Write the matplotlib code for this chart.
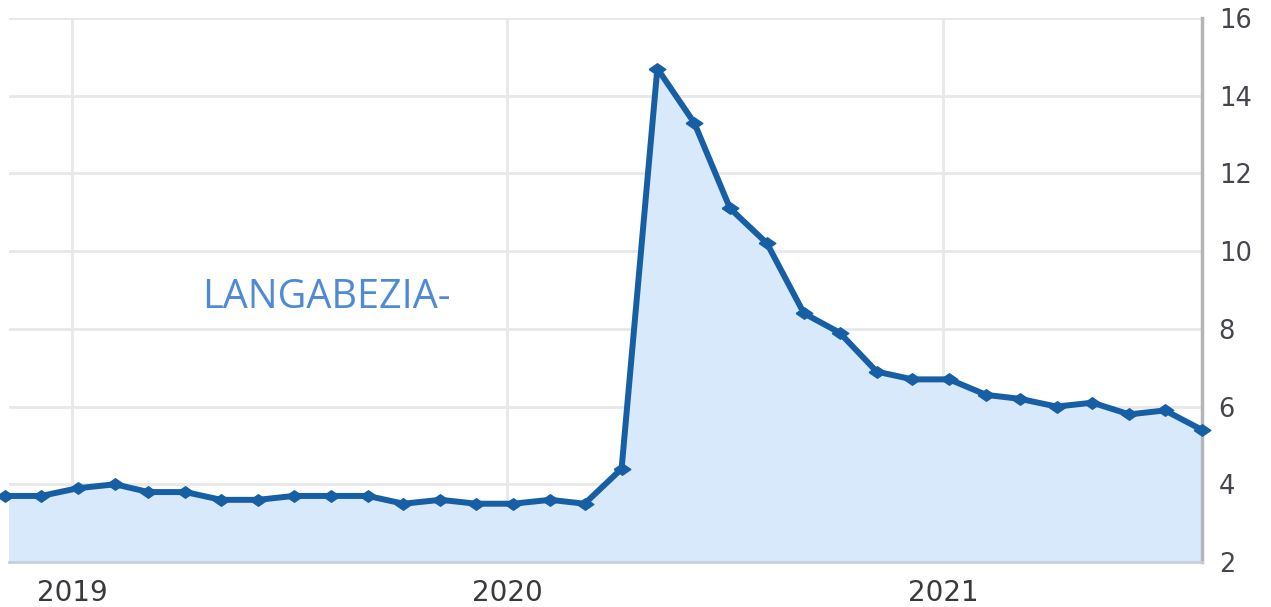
import matplotlib
matplotlib.use("Agg")
import matplotlib.pyplot as plt
import pandas as pd

# Monthly unemployment rate, Oct 2018 .. Jul 2021
months = pd.period_range("2018-10", "2021-07", freq="M")
values = [3.7, 3.7, 3.9,
          4.0, 3.8, 3.8, 3.6, 3.6, 3.7, 3.7, 3.7, 3.5, 3.6, 3.5, 3.5,
          3.6, 3.5, 4.4, 14.7, 13.3, 11.1, 10.2, 8.4, 7.9, 6.9, 6.7, 6.7,
          6.3, 6.2, 6.0, 6.1, 5.8, 5.9, 5.4]
yticks = [2, 4, 6, 8, 10, 12, 14, 16]
year_ticks = ["2019-01-01", "2020-01-01", "2021-01-01"]
year_labels = ["2019", "2020", "2021"]
label_text = "LANGABEZIA-"

# points are published about a week after the month ends
dates = months.to_timestamp(how="end").normalize() + pd.Timedelta(days=6)

W, H = 1271, 607
fig = plt.figure(figsize=(W / 100, H / 100), dpi=100)
ax = fig.add_axes([9 / W, (H - 562) / H, (1202 - 9) / W, (562 - 18) / H])

line_col = "#165fa5"
fill_col = "#d8e9fc"

ax.fill_between(dates, values, 2, color=fill_col, zorder=1, linewidth=0)
diamond = [(-1.45, 0), (0, 1), (1.45, 0), (0, -1), (-1.45, 0)]
ax.plot(dates, values, color=line_col, lw=4.3, marker=diamond, ms=12,
        mfc=line_col, mec=line_col, zorder=3, solid_joinstyle="round",
        clip_on=False)

ax.set_ylim(2, 16)
ax.set_xlim(pd.Timestamp("2018-11-09"), dates[-1])

ax.set_yticks(yticks)
ax.set_yticklabels([str(v) for v in yticks])
ax.yaxis.tick_right()
ax.tick_params(axis="y", length=0, pad=12, labelsize=18.5, labelcolor="#45454d")

ax.set_xticks(pd.to_datetime(year_ticks))
ax.set_xticklabels(year_labels)
ax.tick_params(axis="x", length=0, pad=22, labelsize=20, labelcolor="#3a3a3e")
for lbl in ax.get_xticklabels():
    lbl.set_verticalalignment("center")

ax.grid(True, color="#e8e8e8", lw=2, zorder=0)
ax.set_axisbelow(True)

for s in ["top", "left"]:
    ax.spines[s].set_visible(False)
ax.spines["right"].set_color("#b5b5b5")
ax.spines["right"].set_linewidth(2.5)
ax.spines["bottom"].set_color("#c5d0dc")
ax.spines["bottom"].set_linewidth(2)

ax.text(0.162, 0.485, label_text, transform=ax.transAxes, fontsize=28.5,
        family=["Open Sans", "DejaVu Sans"], color="#4f8ad6",
        ha="left", va="center", zorder=4)

fig.savefig("out.png", dpi=100)
